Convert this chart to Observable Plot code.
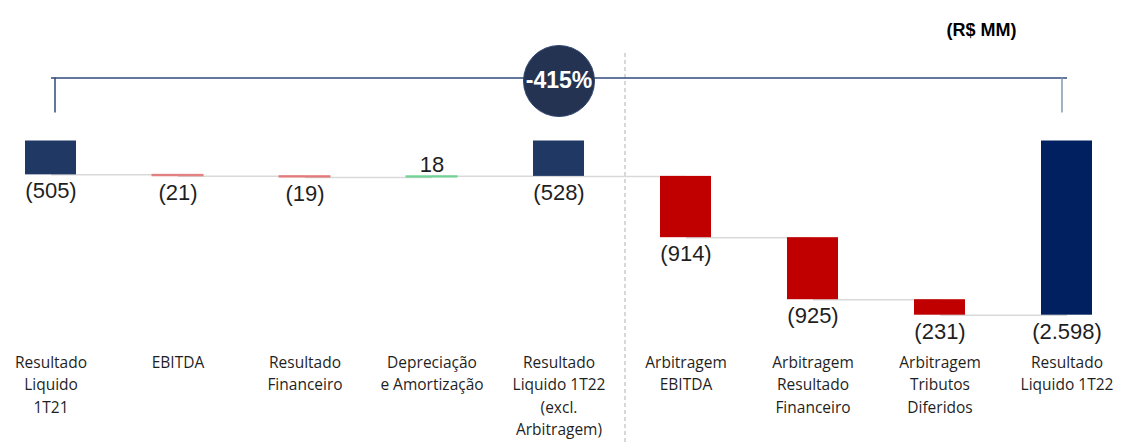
<!DOCTYPE html>
<html>
<head>
<meta charset="utf-8">
<script src="https://cdn.jsdelivr.net/npm/d3@7"></script>
<script src="https://cdn.jsdelivr.net/npm/@observablehq/plot@0.6"></script>
<style>
  html, body { margin: 0; padding: 0; background: #ffffff; }
  #chart { width: 1121px; height: 443px; overflow: hidden; }
</style>
</head>
<body>
<div id="chart"></div>
<script>
// ---- Data (R$ MM) ----
const categories = [
  "Resultado Liquido 1T21",
  "EBITDA",
  "Resultado Financeiro",
  "Depreciação e Amortização",
  "Resultado Liquido 1T22 (excl. Arbitragem)",
  "Arbitragem EBITDA",
  "Arbitragem Resultado Financeiro",
  "Arbitragem Tributos Diferidos",
  "Resultado Liquido 1T22"
];
const categoryLabels = [
  "Resultado\nLiquido\n1T21",
  "EBITDA",
  "Resultado\nFinanceiro",
  "Depreciação\ne Amortização",
  "Resultado\nLiquido 1T22\n(excl.\nArbitragem)",
  "Arbitragem\nEBITDA",
  "Arbitragem\nResultado\nFinanceiro",
  "Arbitragem\nTributos\nDiferidos",
  "Resultado\nLiquido 1T22"
];
const values = [-505, -21, -19, 18, -528, -914, -925, -231, -2598];
const kinds = ["total", "delta", "delta", "delta", "total", "delta", "delta", "delta", "total"];
const valueLabels = ["(505)", "(21)", "(19)", "18", "(528)", "(914)", "(925)", "(231)", "(2.598)"];
const changeLabel = "-415%";
const unitLabel = "(R$ MM)";

// ---- Waterfall table (loss measured downward) ----
let running = 0;
const rows = categories.map((c, i) => {
  const loss = -values[i];
  let a, b;
  if (kinds[i] === "total") { a = 0; b = loss; running = loss; }
  else { a = running; b = running + loss; running = b; }
  return {cat: c, label: categoryLabels[i], text: valueLabels[i], value: values[i], kind: kinds[i],
          y1: a, y2: b, end: b, index: i};
});
const links = rows.slice(0, -1).map((r, i) => ({from: r.cat, to: rows[i + 1].cat, level: r.end}));

function barColor(r) {
  if (r.kind === "total") return r.index === rows.length - 1 ? "#002060" : "#203864";
  if (Math.abs(r.value) < 50) return r.value < 0 ? "#E47B7B" : "#72D296";
  return r.value < 0 ? "#C00000" : "#00B050";
}

const numFont = "'Liberation Sans', Arial, sans-serif";
const catFont = "'Open Sans', 'Noto Sans', sans-serif";

const chart = Plot.plot({
  width: 1121,
  height: 443,
  marginLeft: 0,
  marginRight: 4,
  marginTop: 0,
  marginBottom: 93,
  style: {background: "#ffffff", overflow: "visible"},
  x: {domain: categories, paddingInner: 0.6, paddingOuter: 0.18, axis: null},
  y: {domain: [0, 2598], range: [140.5, 314.7], axis: null},
  marks: [
    // divider between operational and arbitrage effects
    Plot.ruleX([categories[5]], {x: d => d, dx: -61, insetTop: 53, insetBottom: -93,
      stroke: "#BFBFBF", strokeWidth: 1.2, strokeDasharray: "4,3"}),
    // connectors
    Plot.link(links, {x1: "from", x2: "to", y1: "level", y2: "level", stroke: "#D9D9D9", strokeWidth: 1.5}),
    // bars
    Plot.rectY(rows, {x: "cat", y1: "y1", y2: "y2", fill: barColor,
      stroke: d => d.kind === "delta" && Math.abs(d.value) < 50 ? barColor(d) : "none", strokeWidth: 1}),
    // value labels
    Plot.text(rows.filter(d => d.value < 0), {x: "cat", y: d => Math.max(d.y1, d.y2), text: "text",
      lineAnchor: "top", dy: 8, fontSize: 22, fontFamily: numFont, fill: "#1f1f1f"}),
    Plot.text(rows.filter(d => d.value >= 0), {x: "cat", y: d => Math.min(d.y1, d.y2), text: "text",
      lineAnchor: "bottom", dy: -4, fontSize: 22, fontFamily: numFont, fill: "#1f1f1f"}),
    // category labels
    Plot.text(rows, {x: "cat", frameAnchor: "bottom", text: "label", lineAnchor: "top", dy: 1,
      lineHeight: 1.46, fontSize: 15.5, fontFamily: catFont, fill: "#1f1f1f"}),
    // bracket comparing first and last result
    Plot.link([{from: categories[0], to: categories[rows.length - 1]}], {x1: "from", x2: "to",
      y1: () => 0, y2: () => 0, dy: -63, stroke: "#2F4A7C", strokeWidth: 1.5}),
    Plot.ruleX([categories[0]], {x: d => d, y1: () => 0, y2: () => 0, insetTop: -63, insetBottom: 28,
      dx: 4, stroke: "#2F4A7C", strokeWidth: 1.5}),
    Plot.ruleX([categories[rows.length - 1]], {x: d => d, y1: () => 0, y2: () => 0, insetTop: -63, insetBottom: 28,
      dx: -5, stroke: "#8497B0", strokeWidth: 1.5}),
    Plot.dot([changeLabel], {x: () => categories[4], y: () => 0, dy: -60, r: 35.5,
      fill: "#243352", stroke: "#30466F", strokeWidth: 1}),
    Plot.text([changeLabel], {x: () => categories[4], y: () => 0, dy: -60, text: d => d,
      fill: "#ffffff", fontSize: 23, fontWeight: "bold", fontFamily: numFont, letterSpacing: "-0.5px"}),
    // unit
    Plot.text([unitLabel], {frameAnchor: "top-right", text: d => d, dx: -136, dy: 23, textAnchor: "middle",
      fontSize: 18, fontWeight: "bold", fontFamily: numFont, fill: "#000000"})
  ]
});
document.getElementById("chart").appendChild(chart);
</script>
</body>
</html>
